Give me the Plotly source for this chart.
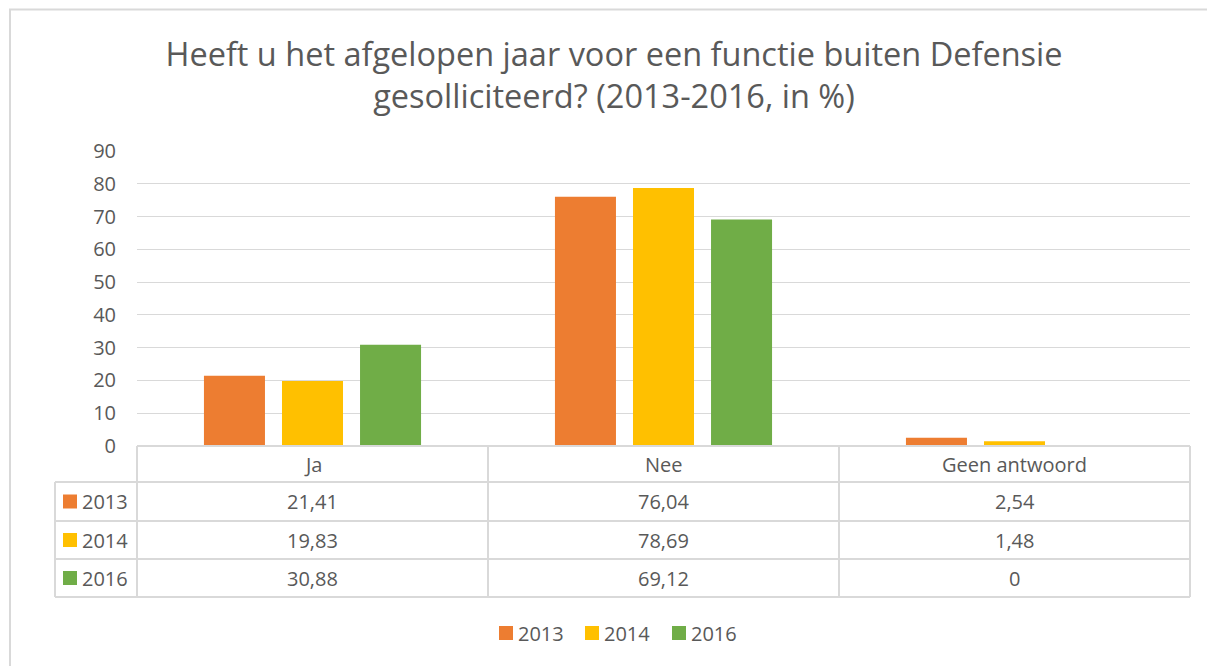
import plotly.graph_objects as go

categories = ["Ja", "Nee", "Geen antwoord"]
series_names = ["2013", "2014", "2016"]
values_2013 = [21.41, 76.04, 2.54]
values_2014 = [19.83, 78.69, 1.48]
values_2016 = [30.88, 69.12, 0]
series_values = [values_2013, values_2014, values_2016]
value_labels_2013 = ["21,41", "76,04", "2,54"]
value_labels_2014 = ["19,83", "78,69", "1,48"]
value_labels_2016 = ["30,88", "69,12", "0"]
value_labels = [value_labels_2013, value_labels_2014, value_labels_2016]
colors = ["#ED7D31", "#FFC000", "#70AD47"]
title_text = "Heeft u het afgelopen jaar voor een functie buiten Defensie<br>gesolliciteerd? (2013-2016, in %)"

OFF = 8  # page body margin
W, H = 1215 - OFF, 666 - OFF
L, R, T, B = 137, 1190, 151, 446   # plot area in page pixels
FONT = "Open Sans"
TXT = "#595959"
GRID = "#d9d9d9"
FS = 20


def px(xp):
    return (xp - L) / (R - L)


def py(yp):
    return (B - yp) / (B - T)


fig = go.Figure()
for name, vals, col in zip(series_names, series_values, colors):
    fig.add_trace(go.Bar(x=categories, y=vals, name=name, marker=dict(color=col, line=dict(width=0)),
                         showlegend=False))

shapes = []
annotations = []

# outer chart frame
shapes.append(dict(type="rect", xref="paper", yref="paper", x0=px(10), x1=px(1240), y0=py(690), y1=py(9.5),
                   line=dict(color=GRID, width=2), fillcolor="rgba(0,0,0,0)", layer="below"))

# data table grid
row_lines = [446, 482, 521, 559, 597]
col_lines = [137, 488, 839, 1190]
for i, yl in enumerate(row_lines):
    x0 = 137 if i == 0 else 55
    shapes.append(dict(type="line", xref="paper", yref="paper", x0=px(x0), x1=px(1190), y0=py(yl), y1=py(yl),
                       line=dict(color=GRID, width=2)))
for xl in col_lines:
    shapes.append(dict(type="line", xref="paper", yref="paper", x0=px(xl), x1=px(xl), y0=py(446), y1=py(597),
                       line=dict(color=GRID, width=2)))
shapes.append(dict(type="line", xref="paper", yref="paper", x0=px(55), x1=px(55), y0=py(482), y1=py(597),
                   line=dict(color=GRID, width=2)))

col_centers = [(col_lines[i] + col_lines[i + 1]) / 2 for i in range(3)]
row_centers = [(row_lines[i] + row_lines[i + 1]) / 2 for i in range(4)]

for c, cx in zip(categories, col_centers):
    annotations.append(dict(text=c, x=px(cx), y=py(row_centers[0]), xref="paper", yref="paper",
                            xanchor="center", yanchor="middle",
                            showarrow=False, font=dict(family=FONT, size=FS, color=TXT)))
for r, (name, labels, col) in enumerate(zip(series_names, value_labels, colors)):
    yc = row_centers[r + 1]
    shapes.append(dict(type="rect", xref="paper", yref="paper", x0=px(63), x1=px(77), y0=py(yc + 7), y1=py(yc - 7),
                       fillcolor=col, line=dict(width=0)))
    annotations.append(dict(text=name, x=px(80), y=py(yc), xref="paper", yref="paper", xanchor="left",
                            yanchor="middle", showarrow=False, font=dict(family=FONT, size=FS, color=TXT)))
    for lab, cx in zip(labels, col_centers):
        annotations.append(dict(text=lab, x=px(cx), y=py(yc), xref="paper", yref="paper",
                                xanchor="center", yanchor="middle",
                                showarrow=False, font=dict(family=FONT, size=FS, color=TXT)))

# custom legend
legend_sq_x = [499, 585, 672]
for name, col, sx in zip(series_names, colors, legend_sq_x):
    shapes.append(dict(type="rect", xref="paper", yref="paper", x0=px(sx), x1=px(sx + 14),
                       y0=py(640), y1=py(626), fillcolor=col, line=dict(width=0)))
    annotations.append(dict(text=name, x=px(sx + 17), y=py(633), xref="paper", yref="paper", xanchor="left",
                            yanchor="middle", showarrow=False, font=dict(family=FONT, size=FS, color=TXT)))

fig.update_layout(
    width=W, height=H,
    margin=dict(l=L - OFF, r=W - (R - OFF), t=T - OFF, b=H - (B - OFF), autoexpand=False),
    paper_bgcolor="white", plot_bgcolor="white",
    title=dict(text=title_text, x=px(614), xanchor="center", y=1 - (66 - OFF) / H, yanchor="middle",
               xref="paper", font=dict(family=FONT, size=32.5, color=TXT)),
    barmode="group", bargap=0.333, bargroupgap=0.218,
    xaxis=dict(showticklabels=False, showgrid=False, zeroline=False, showline=False, ticks=""),
    yaxis=dict(range=[0, 90], dtick=10, tick0=0, showgrid=True, gridcolor=GRID, gridwidth=1,
               zeroline=False, showline=False, ticks="", ticklabelstandoff=20,
               tickfont=dict(family=FONT, size=FS, color=TXT)),
    showlegend=False,
    shapes=shapes, annotations=annotations,
)

fig.write_html("out.html")
